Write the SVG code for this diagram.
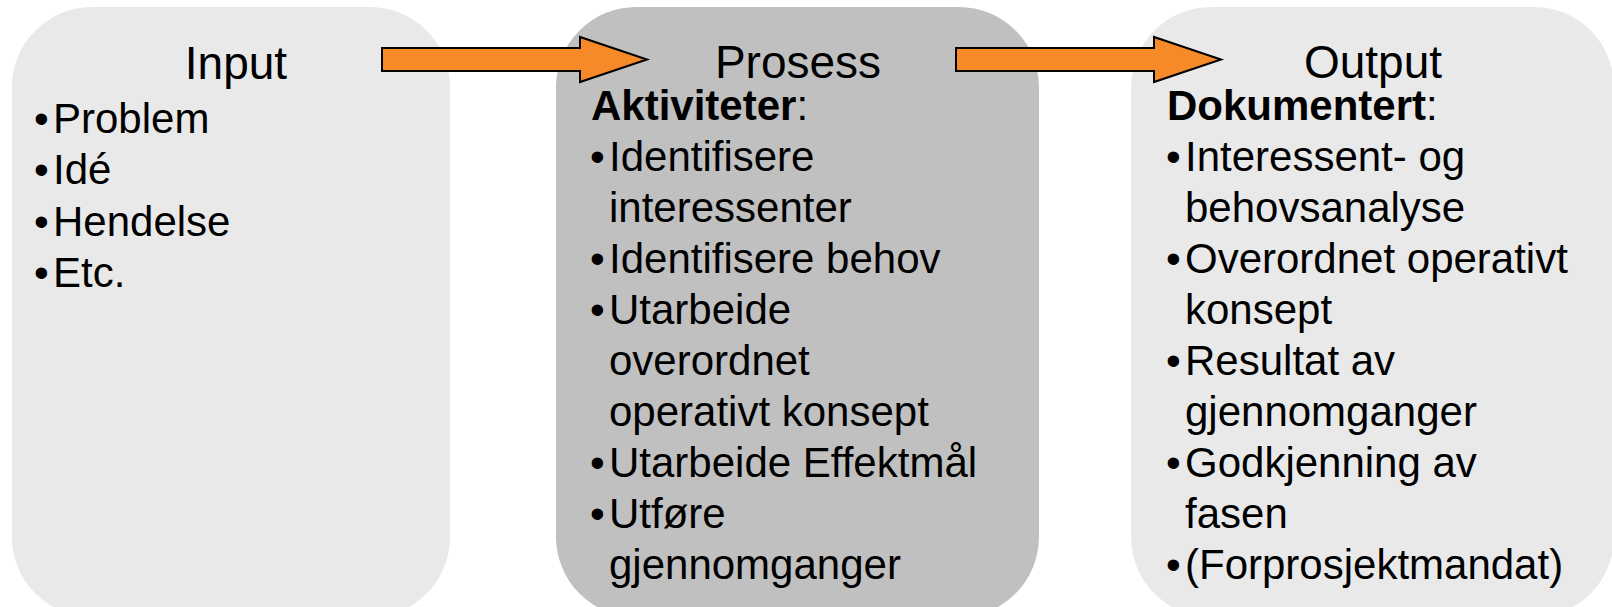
<svg xmlns="http://www.w3.org/2000/svg" width="1612" height="607" viewBox="0 0 1612 607">
<style>
.light{fill:#e9e9e9}
.dark{fill:#c0c0c0}
text{font-family:"Liberation Sans",Arial,sans-serif;fill:#000}
.h{font-size:46px;text-anchor:middle}
.t{font-size:42px}
.b{font-weight:bold}
.arrow{fill:#f68a29;stroke:#000;stroke-width:2;stroke-linejoin:miter}
</style>
<rect width="1612" height="607" fill="#fff"/>
<g id="input">
<rect class="light" x="12" y="7" width="438" height="610" rx="80" ry="80"/>
<text class="h" x="236" y="79">Input</text>
<text class="t"><tspan x="34" y="133">•</tspan><tspan x="53" y="133">Problem</tspan></text>
<text class="t"><tspan x="34" y="184">•</tspan><tspan x="53" y="184">Idé</tspan></text>
<text class="t"><tspan x="34" y="236">•</tspan><tspan x="53" y="236">Hendelse</tspan></text>
<text class="t"><tspan x="34" y="287">•</tspan><tspan x="53" y="287">Etc.</tspan></text>
</g>
<g id="prosess">
<rect class="dark" x="556" y="7" width="483" height="610" rx="80" ry="80"/>
<text class="h" x="798" y="78">Prosess</text>
<text class="t" x="591" y="120"><tspan class="b">Aktiviteter</tspan>:</text>
<text class="t"><tspan x="590" y="171">•</tspan><tspan x="609" y="171">Identifisere</tspan></text>
<text class="t" x="609" y="222">interessenter</text>
<text class="t"><tspan x="590" y="273">•</tspan><tspan x="609" y="273">Identifisere behov</tspan></text>
<text class="t"><tspan x="590" y="324">•</tspan><tspan x="609" y="324">Utarbeide</tspan></text>
<text class="t" x="609" y="375">overordnet</text>
<text class="t" x="609" y="426">operativt konsept</text>
<text class="t"><tspan x="590" y="477">•</tspan><tspan x="609" y="477">Utarbeide Effektmål</tspan></text>
<text class="t"><tspan x="590" y="528">•</tspan><tspan x="609" y="528">Utføre</tspan></text>
<text class="t" x="609" y="579">gjennomganger</text>
</g>
<g id="output">
<rect class="light" x="1131" y="7" width="483" height="610" rx="80" ry="80"/>
<text class="h" x="1373" y="78">Output</text>
<text class="t" x="1167" y="120"><tspan class="b">Dokumentert</tspan>:</text>
<text class="t"><tspan x="1166" y="171">•</tspan><tspan x="1185" y="171">Interessent- og</tspan></text>
<text class="t" x="1185" y="222">behovsanalyse</text>
<text class="t"><tspan x="1166" y="273">•</tspan><tspan x="1185" y="273">Overordnet operativt</tspan></text>
<text class="t" x="1185" y="324">konsept</text>
<text class="t"><tspan x="1166" y="375">•</tspan><tspan x="1185" y="375">Resultat av</tspan></text>
<text class="t" x="1185" y="426">gjennomganger</text>
<text class="t"><tspan x="1166" y="477">•</tspan><tspan x="1185" y="477">Godkjenning av</tspan></text>
<text class="t" x="1185" y="528">fasen</text>
<text class="t"><tspan x="1166" y="579">•</tspan><tspan x="1185" y="579">(Forprosjektmandat)</tspan></text>
</g>
<g id="connectors">
<polygon class="arrow" points="382,48 580,48 580,37 647,59.5 580,82 580,71 382,71"/>
<polygon class="arrow" points="956,48 1154,48 1154,37 1221,59.5 1154,82 1154,71 956,71"/>
</g>
</svg>
